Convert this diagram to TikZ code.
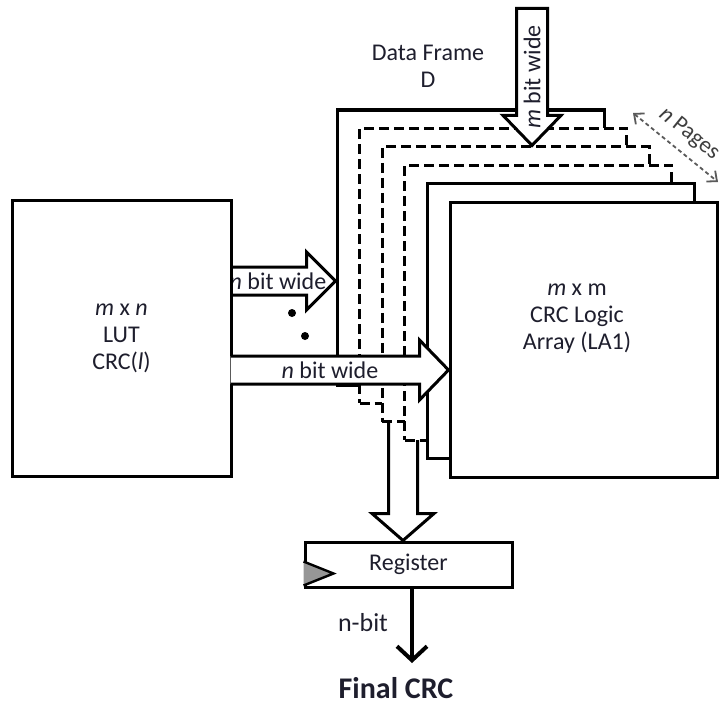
\documentclass[tikz,border=0pt]{standalone}
\usepackage{fontspec}
\setmainfont{Carlito}
\usetikzlibrary{arrows.meta,calc}
\definecolor{crcink}{RGB}{30,30,45}
\definecolor{crcgray}{RGB}{150,150,150}
\definecolor{crcarrow}{RGB}{90,90,90}

\begin{document}
\begin{tikzpicture}[x=0.5pt,y=-0.5pt,
  box/.style={draw,line width=1.5pt,fill=white,inner sep=0pt,text=crcink,align=center,font=\fontsize{12}{13.5}\selectfont},
  page/.style={box,minimum width=133.5pt,minimum height=137.5pt},
  pgsolid/.style={},
  pgdash/.style={line width=1.4pt,dash pattern=on 5pt off 2.5pt},
  hollow/.style={draw,line width=1.5pt,fill=white,miter limit=10},
  lbl/.style={text=crcink,align=center,inner sep=0pt,font=\fontsize{12}{13.5}\selectfont}]
  \useasboundingbox (0,0) rectangle (727,706);
  % Register and the wide arrow into it (behind the pages)
  \node[box,minimum width=103.5pt,minimum height=22.5pt] (reg) at (408.5,564.5) {Register};
  \coordinate (regin) at (403,0);
  \coordinate (regtip) at (reg.north -| regin);
  \draw[hollow,shift={(regtip)}] (-14.5,-140) -- (-14.5,-27) -- (-31,-27) -- (0,0)
    -- (31,-27) -- (14.5,-27) -- (14.5,-140);
  % Pages of the logic array
  \foreach \i/\sty in {0/pgsolid,1/pgdash,2/pgdash,3/pgdash,4/pgsolid,5/pgsolid}
    \node[page,\sty] (page\i) at ({337+22.6*\i+133.5},{110+18.4*\i+137.5}) {};
  \node[lbl] (la) at (577,319) {\textit{m} x m\\CRC Logic\\Array (LA1)};
  % Data frame input
  \coordinate (dtop) at (532,0);
  \coordinate (dtip) at (page2.north -| dtop);
  \draw[hollow,shift={(dtip)}] (-15.5,-137) -- (-15.5,-30) -- (-29,-30) -- (0,0)
    -- (29,-30) -- (15.5,-30) -- (15.5,-137) -- cycle;
  \node[lbl,rotate=90] (mwide) at (532,77) {\textit{m} bit wide};
  \node[lbl] (frame) at (428,66) {Data Frame\\D};
  % LUT outputs
  \coordinate (r1) at (0,281);
  \coordinate (uptip) at (page0.west |- r1);
  \draw[hollow,shift={(uptip)}] (-105,-14) -- (-29,-14) -- (-29,-29) -- (0,0)
    -- (-29,29) -- (-29,14) -- (-105,14);
  \node[lbl] (upwide) at (278,281) {\textit{n} bit wide};
  \node[box,minimum width=109.5pt,minimum height=138pt] (lut) at (121.5,338)
    {\textit{m} x \textit{n}\\LUT\\CRC(\textit{l})};
  \coordinate (r2) at (0,370);
  \coordinate (lowtip) at (page5.west |- r2);
  \draw[hollow,shift={(lowtip)}] (-218,-14) -- (-29,-14) -- (-29,-30) -- (0,0)
    -- (-29,30) -- (-29,14) -- (-218,14);
  \node[lbl] (lowwide) at (330,370) {\textit{n} bit wide};
  \fill (292,313) circle (4) (305,336) circle (4);
  % Register clock and output
  \draw[line width=1.2pt,fill=crcgray,shift={(reg.west)}] (0,-3) -- (30,9) -- (0,21);
  \coordinate (outx) at (412,0);
  \coordinate (crcend) at (412,663);
  \draw[line width=2pt,-{Straight Barb[length=7pt,width=15pt]}] (reg.south -| outx) -- (crcend);
  \node[lbl,font=\fontsize{13}{15}\selectfont] (nbit) at (363,623) {n-bit};
  \node[lbl,font=\fontsize{15}{17}\bfseries] (final) at (396,688) {Final CRC};
  % Page count
  \coordinate (pgstart) at (633,113);
  \coordinate (pgend) at (718,182);
  \draw[crcarrow,line width=0.9pt,dash pattern=on 2pt off 1.5pt,
    {Straight Barb[length=4pt,width=7pt]}-{Straight Barb[length=4pt,width=7pt]}] (pgstart) -- (pgend);
  \node[lbl,rotate=-39,text=crcarrow!70!black,font=\fontsize{11.5}{13}\selectfont] (npages) at (689,134) {\textit{n} Pages};
\end{tikzpicture}
\end{document}
